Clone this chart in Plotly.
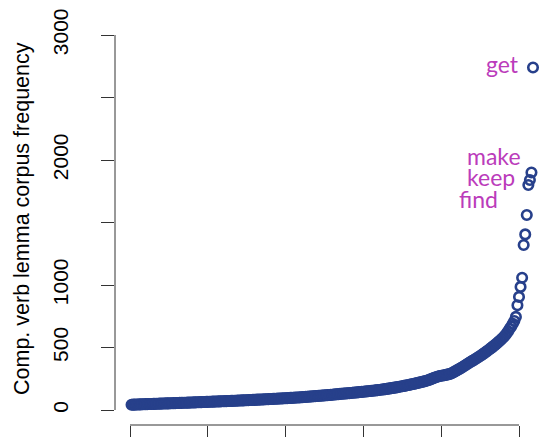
import plotly.graph_objects as go

# Sorted corpus frequencies of complement-taking verb lemmas
freq_low = [
    42, 43, 43, 44, 44, 45, 45, 46, 46, 47,
    47, 48, 48, 48, 49, 49, 50, 50, 51, 51,
    52, 52, 53, 53, 53, 54, 54, 55, 55, 56,
    56, 57, 57, 58, 58, 58, 59, 59, 60, 60,
    61, 61, 62, 62, 63, 63, 64, 64, 65, 65,
    66, 66, 67, 67, 68, 68, 69, 69, 70, 70,
    71, 71, 72, 72, 73, 73, 74, 74, 75, 76,
    76, 77, 77, 78, 78, 79, 80, 80, 81, 81,
    82, 83, 83, 84, 84, 85, 86, 86, 87, 88,
    88, 89, 90, 90, 91, 92, 92, 93, 94, 94,
    95, 96, 97, 97, 98, 99, 100, 100, 101,
]
freq_mid = [
    102, 103, 104, 105, 106, 107, 108, 109, 110, 111,
    112, 113, 114, 115, 116, 117, 118, 119, 120, 121,
    122, 124, 125, 126, 127, 129, 130, 131, 132, 133,
    134, 135, 136, 138, 139, 140, 141, 143, 144, 145,
    146, 148, 149, 150, 152, 153, 154, 156, 157, 159,
    160, 162, 164, 165, 167, 169, 171, 173, 175, 177,
    179, 181, 183, 186, 188, 190, 193, 195, 198, 200,
    203, 206, 208, 211, 214, 217, 220, 223, 226, 229,
    232, 236, 240, 245, 250, 255, 260, 264, 268, 272,
]
freq_high = [
    274, 276, 278, 281, 284, 287, 290, 296, 303, 310,
    317, 324, 331, 338, 346, 354, 362, 370, 378, 386,
    393, 400, 408, 416, 424, 432, 440, 449, 458, 467,
    476, 486, 495, 505, 515, 525, 536, 547, 558, 570,
    582, 596, 612, 630, 650, 668, 690, 712,
]
freq_tail = [745, 838, 905, 985, 1058, 1320, 1405, 1560, 1800, 1840, 1900, 2740]

freq = freq_low + freq_mid + freq_high + freq_tail
rank = list(range(1, len(freq) + 1))

# Labelled lemmas and their ranks
label_words = ["get", "make", "keep", "find"]
label_ranks = [259, 258, 257, 256]

y_tick_vals = [0, 500, 1000, 1500, 2000, 2500, 3000]
y_tick_text = ["0", "500", "1000", "", "2000", "", "3000"]
x_tick_vals = [0, 50, 100, 150, 200, 250]
y_title = "Comp. verb lemma corpus frequency"

# ---- styling ----
W, H = 543, 437
ML, MR, MT, MB = 115, 0, 20, 12
PX_PER_RANK = 1.556
X0_PX = 130  # pixel of rank 0
x_lo = (ML - X0_PX) / PX_PER_RANK
x_hi = (W - MR - X0_PX) / PX_PER_RANK
AXIS_COL = "#333333"
PT_COL = "#27408B"
LAB_COL = "#BB3CBB"

fig = go.Figure()
fig.add_trace(go.Scatter(
    x=rank, y=freq, mode="markers",
    marker=dict(symbol="circle-open", size=9.5, color=PT_COL,
                line=dict(width=2.6, color=PT_COL)),
    hoverinfo="skip", showlegend=False,
))

# label offsets (pixels) relative to their points
label_shift = {"get": (-12, 4), "make": (-8, 17), "keep": (-13, 3), "find": (-28, -14)}
for w, r in zip(label_words, label_ranks):
    dx, dy = label_shift[w]
    fig.add_annotation(
        x=r, y=freq[r - 1], xref="x", yref="y", text=w, showarrow=False,
        xanchor="right", yanchor="middle", xshift=dx, yshift=dy,
        font=dict(family="Lato", size=23, color=LAB_COL),
    )

# y-axis title
fig.add_annotation(
    x=(22 - ML) / (W - ML - MR), y=(H - MB - 219) / (H - MT - MB),
    xref="paper", yref="paper", text=y_title, textangle=-90, showarrow=False,
    xanchor="center", yanchor="middle",
    font=dict(family="Liberation Sans", size=21.5, color="#000000"),
)

# axis lines spanning only the tick range (R style)
fig.add_shape(type="line", xref="paper", yref="y", x0=0, x1=0,
              y0=y_tick_vals[0], y1=y_tick_vals[-1],
              line=dict(color=AXIS_COL, width=1))
fig.add_shape(type="line", xref="x", yref="paper", x0=x_tick_vals[0],
              x1=x_tick_vals[-1], y0=0, y1=0,
              line=dict(color=AXIS_COL, width=1))

fig.update_layout(
    width=W, height=H,
    margin=dict(l=ML, r=MR, t=MT, b=MB, pad=0),
    paper_bgcolor="white", plot_bgcolor="white",
    xaxis=dict(range=[x_lo, x_hi], showgrid=False, zeroline=False, showline=False,
               tickmode="array", tickvals=x_tick_vals, ticks="outside", ticklen=13,
               tickwidth=1, tickcolor=AXIS_COL, showticklabels=False, fixedrange=True),
    yaxis=dict(range=[-120, 3120], showgrid=False, zeroline=False, showline=False,
               tickmode="array", tickvals=y_tick_vals, ticktext=y_tick_text,
               ticks="outside", ticklen=13, tickwidth=1, tickcolor=AXIS_COL,
               tickangle=-90, ticklabelstandoff=25,
               tickfont=dict(family="Liberation Sans", size=21, color="#000000"),
               fixedrange=True),
)

fig.write_html("out.html")
